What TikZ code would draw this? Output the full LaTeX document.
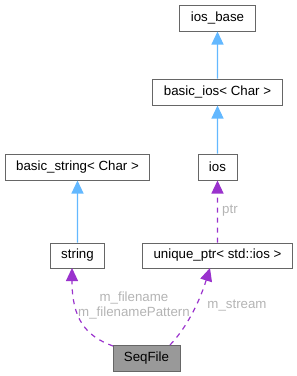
\documentclass[tikz,border=0pt]{standalone}
\usepackage{fontspec}
\setmainfont{Liberation Sans}
\usetikzlibrary{arrows.meta}
\definecolor{boxline}{HTML}{666666}
\definecolor{seqfill}{HTML}{999999}
\definecolor{inhblue}{HTML}{63B8FF}
\definecolor{usepurple}{HTML}{9A32CD}
\definecolor{lblgray}{HTML}{B4B4B4}
\begin{document}
\begin{tikzpicture}[x=1pt,y=-1pt,
  cls/.style={draw=boxline,line width=1pt,fill=white,rectangle,inner sep=0pt,
    minimum height=26pt,font=\fontsize{13.3pt}{15pt}\selectfont},
  inh/.style={draw=inhblue,line width=1.1pt,-{Triangle[length=13pt,width=12pt,fill=inhblue]}},
  usage/.style={draw=usepurple,line width=1.2pt,dash pattern=on 5pt off 5pt,
    -{Triangle[length=13pt,width=12pt,fill=usepurple]}},
  lbl/.style={text=lblgray,font=\fontsize{13.3pt}{14.5pt}\selectfont,inner sep=0pt,align=center}]
\useasboundingbox (0,0) rectangle (297,376);
\node[cls,minimum width=76pt] (iosbase) at (217.5,18) {ios\_base};
\node[cls,minimum width=130pt] (basicios) at (217.5,92) {basic\_ios< Char >};
\node[cls,minimum width=39pt] (ios) at (217.5,167) {ios};
\node[cls,minimum width=144pt] (bstring) at (77.5,167) {basic\_string< Char >};
\node[cls,minimum width=54pt,minimum height=25pt] (string) at (77.5,255.5) {string};
\node[cls,minimum width=150pt,minimum height=25pt] (uptr) at (217.5,255.5) {unique\_ptr< std::ios >};
\node[cls,minimum width=67pt,fill=seqfill] (seq) at (146.5,358) {SeqFile};
\draw[inh] ([xshift=0.01pt]basicios.north) -- (iosbase.south);
\draw[inh] ([xshift=0.01pt]ios.north) -- (basicios.south);
\draw[inh] ([xshift=0.01pt]string.north) -- (bstring.south);
\draw[usage] ([xshift=0.01pt]uptr.north -| ios.south) -- (ios.south);
\coordinate (s1) at (113,346);
\coordinate (s2) at (170,345);
\coordinate (t1) at (72,268);
\coordinate (t2) at (210,268);
\draw[usage] (s1) .. controls (85,336) and (72,318) .. (t1);
\draw[usage] (s2) .. controls (188,326) and (200,300) .. (t2);
\node[lbl,anchor=west] (lptr) at (222,211) {ptr};
\node[lbl] (lfn) at (134,305.5) {m\_filename\\m\_filenamePattern};
\node[lbl] (lst) at (237,306) {m\_stream};
\end{tikzpicture}
\end{document}
